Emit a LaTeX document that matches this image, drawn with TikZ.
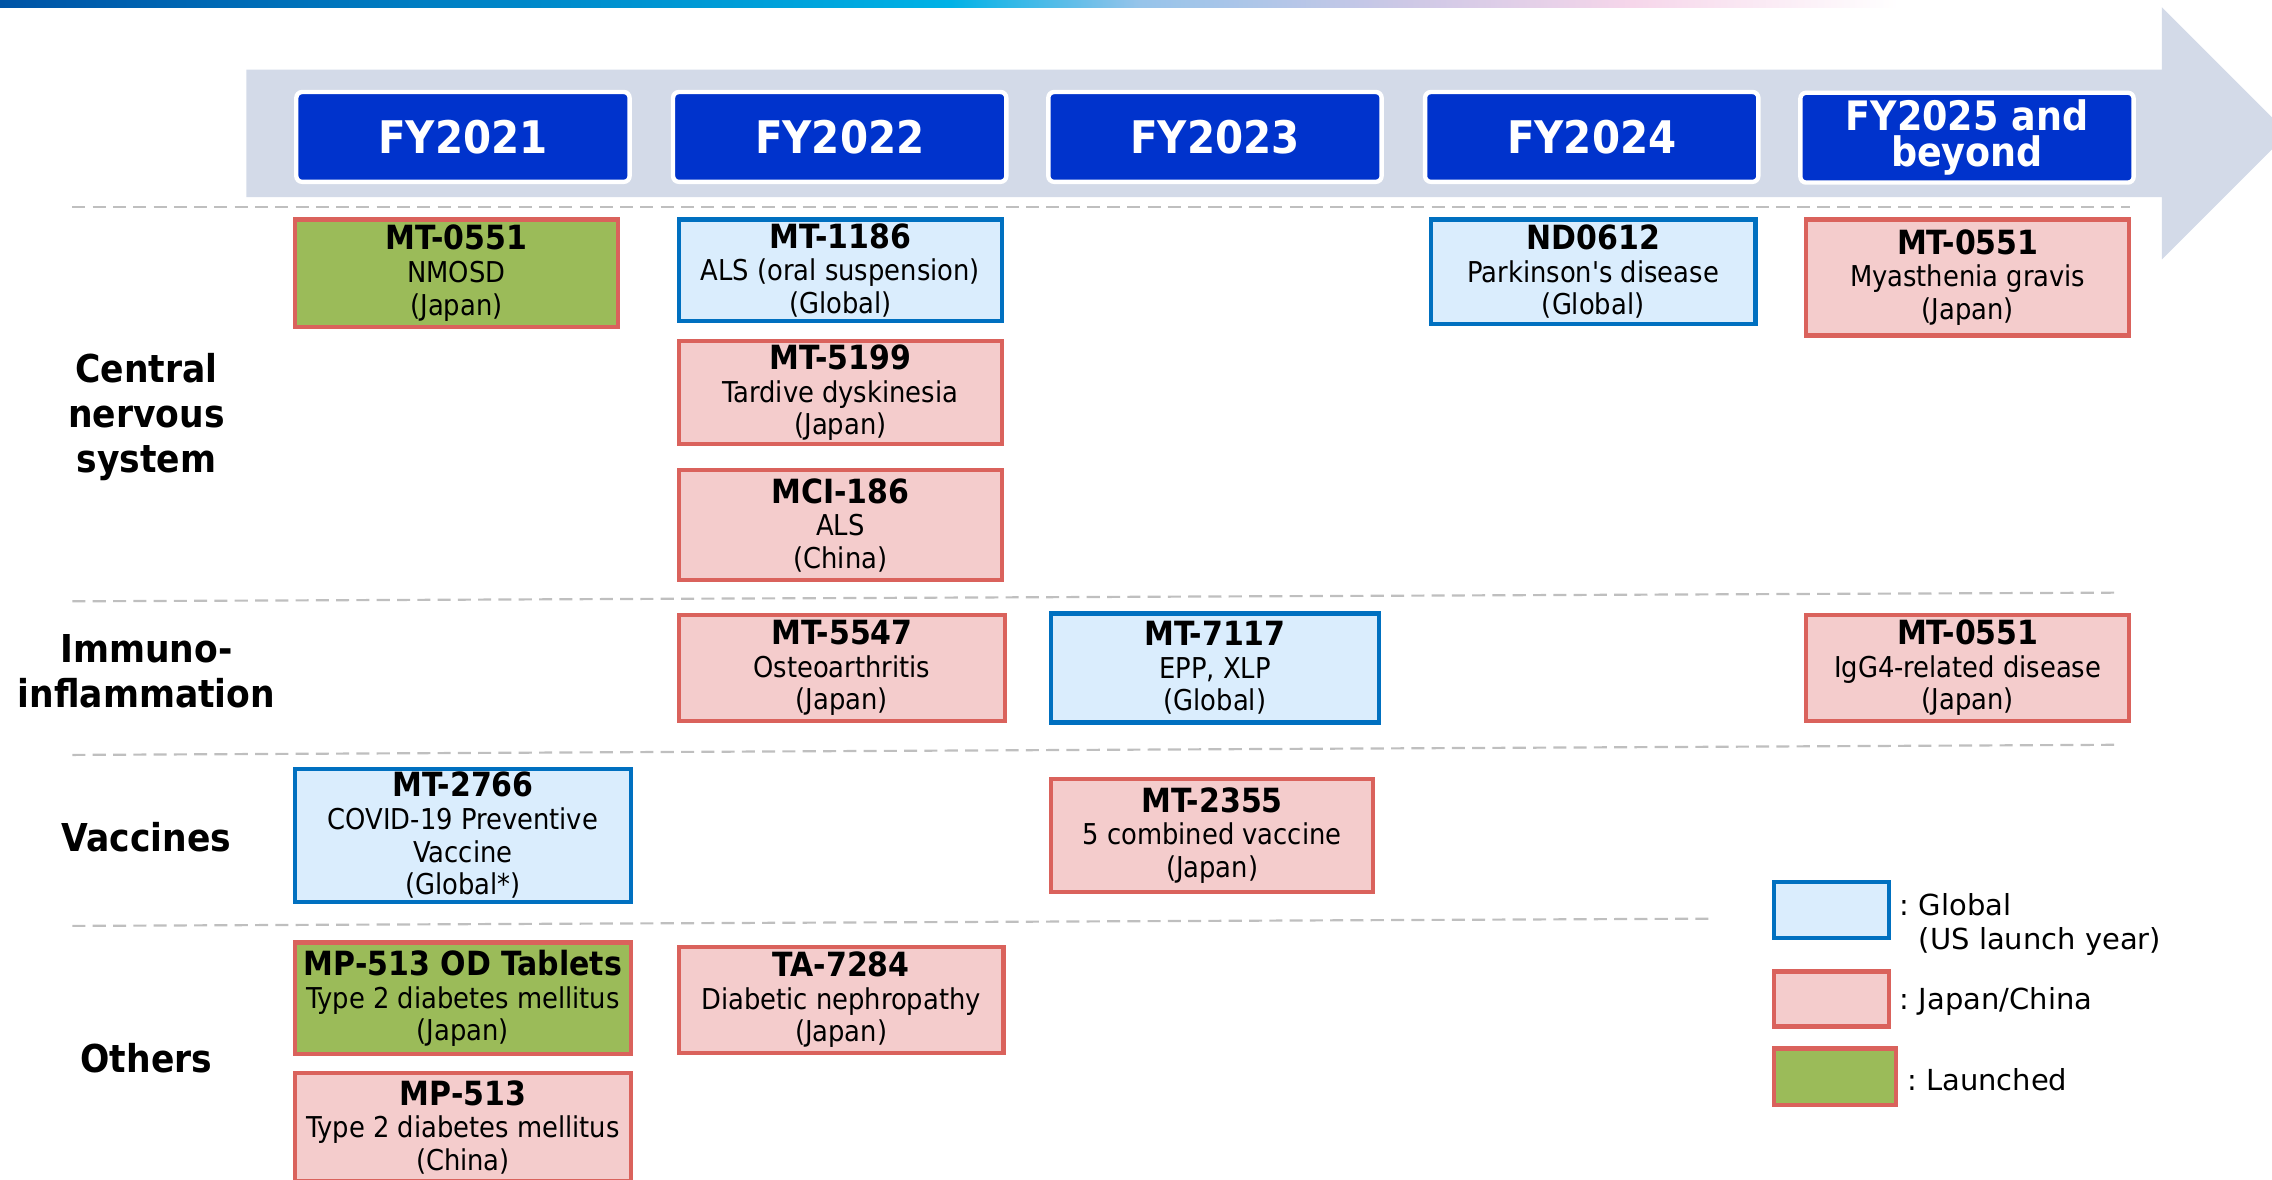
\documentclass[tikz,border=0pt]{standalone}
\usepackage{fontspec}
\setmainfont{DejaVu Sans Condensed}[Ligatures=TeXOff]
\newfontfamily\legendfont{DejaVu Sans}
\usetikzlibrary{positioning}

\definecolor{hdrblue}{HTML}{0033CC}
\definecolor{arrowgray}{HTML}{D3DAE8}
\definecolor{gborder}{HTML}{0070C0}
\definecolor{gfill}{HTML}{DAEDFD}
\definecolor{jborder}{HTML}{DA625C}
\definecolor{jfill}{HTML}{F4CCCC}
\definecolor{lfill}{HTML}{9BBB59}
\definecolor{sepgray}{HTML}{BFBFBF}
\definecolor{barA}{RGB}{0,84,166}
\definecolor{barB}{RGB}{0,178,230}
\definecolor{barC}{RGB}{150,196,234}
\definecolor{barD}{RGB}{205,200,230}
\definecolor{barE}{RGB}{246,214,234}

\pgfdeclarehorizontalshading{topbar}{100bp}{color(0bp)=(barA); color(25bp)=(barA);
  color(50bp)=(barB); color(55bp)=(barC); color(62bp)=(barD); color(68bp)=(barE);
  color(75bp)=(white); color(100bp)=(white)}

\newcommand{\dname}[1]{{\bfseries\fontsize{23}{24}\selectfont #1}}

\begin{document}
\begin{tikzpicture}[x=1pt,y=-1pt,
  year/.style={draw=white, line width=3pt, fill=hdrblue, rounded corners=4pt, text=white,
    minimum width=230pt, minimum height=62pt, inner sep=0pt, align=center,
    font=\bfseries\fontsize{31}{31}\selectfont},
  drug/.style={line width=3pt, align=center, inner sep=0pt, font=\fontsize{19.8}{22.5}\selectfont},
  global/.style={drug, draw=gborder, fill=gfill},
  japan/.style={drug, draw=jborder, fill=jfill},
  launched/.style={drug, draw=jborder, fill=lfill},
  area/.style={align=center, font=\bfseries\fontsize{26.5}{31}\selectfont},
  legtext/.style={align=left, inner sep=0pt, font=\legendfont\fontsize{20}{24}\selectfont},
  sep/.style={sepgray, line width=1.5pt, dash pattern=on 9pt off 5pt}]
  \useasboundingbox (0,0) rectangle (1568,814);

  % Draw the time arrow and the top bar
  \fill[arrowgray] (170,48) -- (1492,48) -- (1492,5) -- (1579,92) -- (1492,179)
    -- (1492,136) -- (170,136) -- cycle;
  \shade[shading=topbar] (0,0) rectangle (1310,5);

  % Separators
  \draw[sep] (50,143) -- (1470,143);
  \draw[sep] (50,415) -- (1460,409);
  \draw[sep] (50,521) -- (1460,514);
  \draw[sep] (50,639) -- (1180,634);

  % Years
  \node[year] (fy21) at (319.5,94.5) {FY2021};
  \node[year] (fy22) at (579.5,94.5) {FY2022};
  \node[year] (fy23) at (838.5,94.5) {FY2023};
  \node[year] (fy24) at (1098.5,94.5) {FY2024};
  \node[year, font=\bfseries\fontsize{28}{25}\selectfont] (fy25) at (1357.5,95) {FY2025 and\\beyond};

  % Areas
  \node[area] (cns) at (101,288) {Central\\nervous\\system};
  \node[area] (immuno) at (101,463) {Immuno-\\inflammation};
  \node[area] (vacc) at (101,578) {Vaccines};
  \node[area] (others) at (101,730) {Others};

  % Central nervous system
  \node[launched, minimum width=223pt, minimum height=74pt] (nmosd) at (315,188.5)
    {\dname{MT-0551}\\NMOSD\\(Japan)};
  \node[global, minimum width=223pt, minimum height=70pt] (als) at (580,186.5)
    {\dname{MT-1186}\\ALS (oral suspension)\\(Global)};
  \node[japan, minimum width=223pt, minimum height=71pt] (td) at (580,271)
    {\dname{MT-5199}\\Tardive dyskinesia\\(Japan)};
  \node[japan, minimum width=223pt, minimum height=76pt] (alscn) at (580,362.5)
    {\dname{MCI-186}\\ALS\\(China)};
  \node[global, minimum width=224pt, minimum height=72pt] (pd) at (1099.5,187.5)
    {\dname{ND0612}\\Parkinson's disease\\(Global)};
  \node[japan, minimum width=223pt, minimum height=80pt] (mg) at (1358,191.5)
    {\dname{MT-0551}\\Myasthenia gravis\\(Japan)};

  % Immuno-inflammation
  \node[japan, minimum width=225pt, minimum height=73pt] (oa) at (581,461)
    {\dname{MT-5547}\\Osteoarthritis\\(Japan)};
  \node[global, minimum width=226pt, minimum height=75pt] (epp) at (838.5,461)
    {\dname{MT-7117}\\EPP, XLP\\(Global)};
  \node[japan, minimum width=223pt, minimum height=73pt] (igg) at (1358,461)
    {\dname{MT-0551}\\IgG4-related disease\\(Japan)};

  % Vaccines
  \node[global, minimum width=232pt, minimum height=92pt] (covid) at (319.5,576.5)
    {\dname{MT-2766}\\COVID-19 Preventive\\Vaccine\\(Global*)};
  \node[japan, minimum width=222pt, minimum height=78pt] (five) at (836.5,576.5)
    {\dname{MT-2355}\\5 combined vaccine\\(Japan)};

  % Others
  \node[launched, minimum width=232pt, minimum height=77pt] (od) at (319.5,689)
    {\dname{MP-513 OD Tablets}\\Type 2 diabetes mellitus\\(Japan)};
  \node[japan, minimum width=224pt, minimum height=73pt] (dn) at (580.5,690)
    {\dname{TA-7284}\\Diabetic nephropathy\\(Japan)};
  \node[japan, minimum width=232pt, minimum height=75pt] (t2d) at (319.5,778)
    {\dname{MP-513}\\Type 2 diabetes mellitus\\(China)};

  % Legend
  \node[global, minimum width=79pt, minimum height=39pt] (lg1) at (1264,628) {};
  \node[japan, minimum width=79pt, minimum height=38pt] (lg2) at (1264,689.5) {};
  \node[launched, minimum width=84pt, minimum height=39pt] (lg3) at (1266.5,743) {};
  \node[legtext, right=6pt of lg1, yshift=-10pt] (lgt1) {:~Global\\\phantom{:~}(US launch year)};
  \node[legtext, right=6pt of lg2, yshift=-2pt] (lgt2) {:~Japan/China};
  \node[legtext, right=6pt of lg3, yshift=-2pt] (lgt3) {:~Launched};
\end{tikzpicture}
\end{document}
